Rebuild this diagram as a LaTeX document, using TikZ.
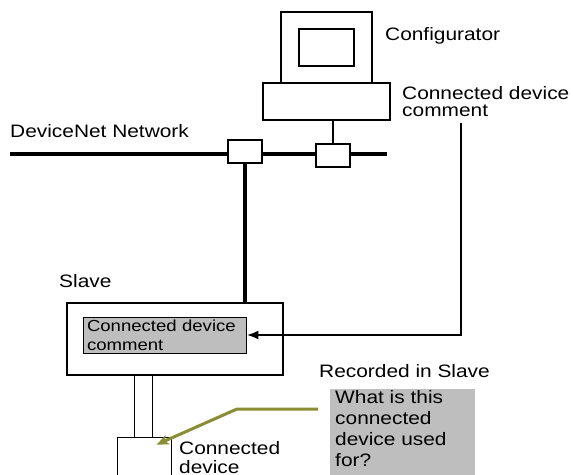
\documentclass[tikz,border=0pt]{standalone}
\usepackage{fontspec}
\setmainfont{Liberation Sans}[FakeStretch=1.16]
\usepackage{tikz}
\usetikzlibrary{arrows.meta,positioning,calc}
\definecolor{notegray}{HTML}{BEBEBE}
\definecolor{olivearr}{HTML}{8B8D34}
\tikzset{
  box/.style    = {draw,line width=2.2pt,fill=white,inner sep=0pt},
  tap/.style    = {draw,line width=1.5pt,fill=white,inner sep=0pt,
                   minimum width=34pt,minimum height=23pt},
  net/.style    = {line width=3.6pt},
  wire/.style   = {line width=2.6pt},
  lead/.style   = {line width=0.8pt},
  lbl/.style    = {inner sep=0pt,align=left,
                   font=\fontsize{18}{19}\selectfont},
  cmtbox/.style = {draw,line width=0.8pt,fill=notegray,align=left,
                   inner xsep=4pt,inner ysep=0pt,text width=155pt,
                   minimum height=36pt,font=\fontsize{16}{19}\selectfont},
  retarr/.style = {wire,-{Latex[length=12pt,width=9pt]}},
  notearr/.style= {line width=3pt,draw=olivearr,
                   -{Stealth[length=12pt,width=10pt,inset=3pt]}},
}

\begin{document}
\begin{tikzpicture}[x=1pt,y=-1pt]
  \useasboundingbox (0,0) rectangle (573,474);
  \clip (0,0) rectangle (573,474);

  % configurator
  \node[box,minimum width=91pt,minimum height=71pt] (monitor) at (326.5,47.5) {};
  \node[box,minimum width=55pt,minimum height=37pt] (screen) at (monitor.center) {};
  \node[box,minimum width=127pt,minimum height=37pt] (base) at (326.5,101.5) {};
  \node[lbl,anchor=base west] (conflbl) at (385,40) {Configurator};
  \node[lbl,anchor=north west,font=\fontsize{18}{17.5}\selectfont] (cmtlbl)
        at (402,86) {Connected device\\comment};

  % network
  \coordinate (busL) at (10,154);
  \coordinate (busR) at (387,154);
  \draw[net] (busL) -- (busR);
  \node[tap] (tapL) at (245,151.5) {};
  \node[tap] (tapR) at (333,155.5) {};
  \draw[wire] (tapR.north) -- (tapR.north |- base.south);
  \node[lbl,anchor=base west] (netlbl) at (10,137) {DeviceNet Network};

  % slave
  \node[box,line width=2pt,minimum width=216pt,minimum height=72pt] (slave)
        at (175,339) {};
  \node[lbl,anchor=base west] (slavelbl) at (59,287) {Slave};
  \node[cmtbox] (cmt) at (164.5,335) {Connected device\\comment};
  \draw[net] (tapL.south) -- (tapL.south |- slave.north);
  \coordinate (cr) at (461,123);
  \draw[retarr] (cr) |- (cmt.east);

  % connected device
  \node[draw,lead,fill=white,minimum width=54pt,minimum height=52pt] (dev)
        at (144,463) {};
  \coordinate (d1) at ($(dev.north)+(-10,0)$);
  \coordinate (d2) at ($(dev.north)+(8,0)$);
  \draw[lead] (d1) -- (d1 |- slave.south);
  \draw[lead] (d2) -- (d2 |- slave.south);
  \node[lbl,anchor=north west] (devlbl) at (179,441) {Connected\\device};

  % note
  \node[fill=notegray,minimum width=145pt,minimum height=95pt,anchor=north west]
        (qbox) at (330,389) {};
  \node[lbl,anchor=north west,font=\fontsize{18}{21}\selectfont] (qtext)
        at ($(qbox.north west)+(5,1.5)$)
        {What is this\\connected\\device used\\for?};
  \node[lbl,anchor=base west] (reclbl) at (319,377) {Recorded in Slave};
  \coordinate (qs) at (318,409);
  \coordinate (qk) at (237,409);
  \draw[notearr] (qs) -- (qk) -- ($(dev.north west)+(40,8)$);
\end{tikzpicture}
\end{document}
